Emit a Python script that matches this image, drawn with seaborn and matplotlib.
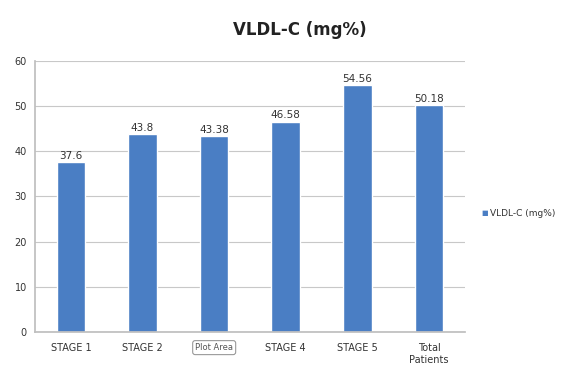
import matplotlib
matplotlib.use("Agg")
import matplotlib.pyplot as plt
import seaborn as sns
import pandas as pd

categories = ["STAGE 1", "STAGE 2", "STAGE 3", "STAGE 4", "STAGE 5", "Total\nPatients"]
tick_labels = ["STAGE 1", "STAGE 2", "Plot Area", "STAGE 4", "STAGE 5", "Total\nPatients"]
values = [37.6, 43.8, 43.38, 46.58, 54.56, 50.18]
value_labels = ["37.6", "43.8", "43.38", "46.58", "54.56", "50.18"]
series_name = "VLDL-C (mg%)"
yticks = [0, 10, 20, 30, 40, 50, 60]

sns.set_theme(style="white")
plt.rcParams['font.family'] = ['DejaVu Sans']

df = pd.DataFrame({"cat": categories, "val": values, "series": series_name})

fig = plt.figure(figsize=(5.76, 3.76), dpi=100)
ax = fig.add_axes([0.061, 0.117, 0.746, 0.721])
color = "#4a7ec4"
sns.barplot(data=df, x="cat", y="val", hue="series", palette=[color], width=0.4,
            ax=ax, legend=False, saturation=1)

ax.set_ylim(0, 60)
ax.set_yticks(yticks)
ax.set_yticklabels([str(t) for t in yticks], fontsize=7, color="#333333")
ax.set_xticks(range(len(categories)))
ax.set_xticklabels(tick_labels)
ax.set_xlabel("")
ax.set_ylabel("")
ax.tick_params(axis="x", labelsize=7, colors="#333333", length=0, pad=8)
ax.tick_params(axis="y", length=0, pad=6)
ax.grid(axis="y", color="#c8c8c8", linewidth=0.8)
ax.set_axisbelow(True)
for s in ["top", "right"]:
    ax.spines[s].set_visible(False)
ax.spines["left"].set_color("#bfbfbf")
ax.spines["bottom"].set_color("#bfbfbf")
ax.set_xlim(-0.5, len(categories) - 0.5)

# tooltip look for the third label
tip = ax.get_xticklabels()[2]
tip.set_fontsize(6)
tip.set_color("#555555")
tip.set_bbox(dict(boxstyle="round,pad=0.3", fc="white", ec="#999999", lw=0.8))

for p, lab in zip(ax.patches, value_labels):
    ax.text(p.get_x() + p.get_width() / 2, p.get_height() + 0.3, lab,
            ha="center", va="bottom", fontsize=7.5, color="#333333")

fig.text(0.52, 0.92, "VLDL-C (mg%)", ha="center", va="center", fontsize=12,
         fontweight="bold", color="#222222")

# legend
fig.text(0.835, 0.433, "■", ha="left", va="center", fontsize=5, color=color)
fig.text(0.85, 0.433, series_name, ha="left", va="center", fontsize=6.5, color="#333333")

fig.savefig("out.png", dpi=100)
